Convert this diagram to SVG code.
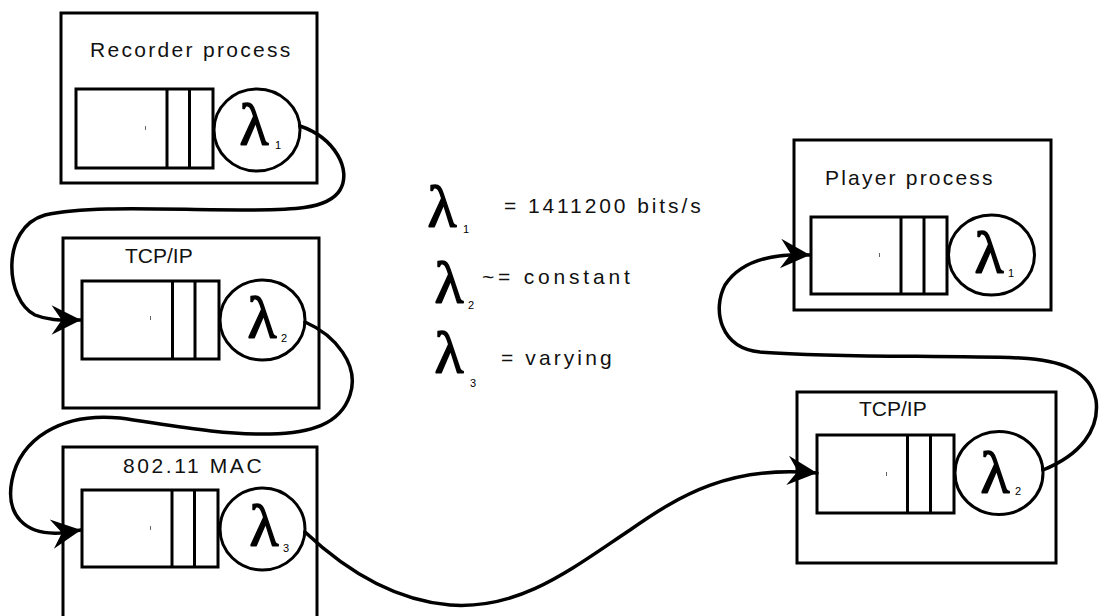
<svg xmlns="http://www.w3.org/2000/svg" width="1103" height="616" viewBox="0 0 1103 616">
<defs>
<style>
.box{fill:none;stroke:#000;stroke-width:3}
.q{fill:#fff;stroke:#000;stroke-width:3}
.srv{fill:#fff;stroke:#000;stroke-width:3}
.lbl{font-family:"Liberation Sans",Arial,sans-serif;font-size:21px;fill:#111}
.lam{font-family:"Liberation Serif","DejaVu Serif",serif;font-size:60px;fill:#000;stroke:#000;stroke-width:1.4;stroke-linejoin:round;text-anchor:middle}
.sub{font-family:"Liberation Sans",Arial,sans-serif;font-size:11px;fill:#000}
.tick{fill:#666}
.con{fill:none;stroke:#000;stroke-width:3.5;stroke-linecap:round}
</style>
<marker id="arr" markerUnits="userSpaceOnUse" markerWidth="34" markerHeight="34" viewBox="-28 -15 30 30" refX="0" refY="0" orient="auto">
<path d="M0,0 L-26,-13 L-17,0 L-26,13 Z" fill="#000"/>
</marker>
</defs>
<rect width="1103" height="616" fill="#fff"/>

<g id="recorder">
<rect class="box" x="61" y="13" width="256" height="170"/>
<text class="lbl" x="90" y="57" letter-spacing="2.3">Recorder process</text>
<rect class="q" x="76" y="89" width="137" height="79"/>
<line x1="167" y1="89" x2="167" y2="168" stroke="#000" stroke-width="3"/>
<line x1="189.5" y1="89" x2="189.5" y2="168" stroke="#000" stroke-width="3"/>
<rect class="tick" x="145" y="126" width="1" height="4"/>
<ellipse class="srv" cx="257" cy="130" rx="43" ry="41"/>
<text class="lam" x="254" y="145">λ</text>
<text class="sub" x="275" y="149">1</text>
</g>

<g id="tcp-left">
<rect class="box" x="63" y="238" width="256" height="170"/>
<text class="lbl" x="125" y="263">TCP/IP</text>
<rect class="q" x="82" y="281" width="137" height="78"/>
<line x1="172.5" y1="281" x2="172.5" y2="359" stroke="#000" stroke-width="3"/>
<line x1="195" y1="281" x2="195" y2="359" stroke="#000" stroke-width="3"/>
<rect class="tick" x="150" y="316" width="1" height="4"/>
<ellipse class="srv" cx="262.5" cy="320" rx="42.5" ry="40"/>
<text class="lam" x="262" y="338">λ</text>
<text class="sub" x="281" y="342">2</text>
</g>

<g id="mac">
<rect class="box" x="63" y="447" width="254" height="180"/>
<text class="lbl" x="123" y="473" letter-spacing="2.6">802.11 MAC</text>
<rect class="q" x="82" y="490" width="136" height="77"/>
<line x1="172" y1="490" x2="172" y2="567" stroke="#000" stroke-width="3"/>
<line x1="194.5" y1="490" x2="194.5" y2="567" stroke="#000" stroke-width="3"/>
<rect class="tick" x="150" y="526" width="1" height="4"/>
<ellipse class="srv" cx="262.5" cy="529" rx="42.5" ry="41"/>
<text class="lam" x="264" y="546">λ</text>
<text class="sub" x="283" y="552">3</text>
</g>

<g id="player">
<rect class="box" x="794" y="140" width="257" height="170"/>
<text class="lbl" x="825" y="185" letter-spacing="2.2">Player process</text>
<rect class="q" x="811" y="217" width="136" height="77"/>
<line x1="901" y1="217" x2="901" y2="294" stroke="#000" stroke-width="3"/>
<line x1="924" y1="217" x2="924" y2="294" stroke="#000" stroke-width="3"/>
<rect class="tick" x="879" y="253" width="1" height="4"/>
<ellipse class="srv" cx="991.5" cy="255" rx="43" ry="40"/>
<text class="lam" x="989" y="273">λ</text>
<text class="sub" x="1008" y="277">1</text>
</g>

<g id="tcp-right">
<rect class="box" x="797" y="392" width="259" height="171"/>
<text class="lbl" x="859" y="416">TCP/IP</text>
<rect class="q" x="817" y="435" width="137" height="78"/>
<line x1="907.5" y1="435" x2="907.5" y2="513" stroke="#000" stroke-width="3"/>
<line x1="930.5" y1="435" x2="930.5" y2="513" stroke="#000" stroke-width="3"/>
<rect class="tick" x="886" y="472" width="1" height="4"/>
<ellipse class="srv" cx="999" cy="473" rx="44" ry="41.5"/>
<text class="lam" x="995" y="493">λ</text>
<text class="sub" x="1015" y="495">2</text>
</g>

<g id="legend">
<text class="lam" x="442" y="227">λ</text>
<text class="sub" x="463" y="233">1</text>
<text class="lbl" x="504" y="213" letter-spacing="2.9">= 1411200 bits/s</text>
<text class="lam" x="449" y="303">λ</text>
<text class="sub" x="468" y="309">2</text>
<text class="lbl" x="482" y="284" letter-spacing="3.8">~= constant</text>
<text class="lam" x="449" y="373">λ</text>
<text class="sub" x="470" y="387">3</text>
<text class="lbl" x="501" y="365" letter-spacing="3.1">= varying</text>
</g>

<g id="connectors">
<path class="con" marker-end="url(#arr)" d="M300,126 C335,138 352,170 340,190 C328,210 290,210 240,210 C170,210 90,205 45,215 C0,228 5,300 35,315 C50,321 62,320 81,320"/>
<path class="con" marker-end="url(#arr)" d="M305,322 C335,335 360,365 350,395 C340,425 310,433 270,434 C220,435 170,425 120,418 C60,412 20,440 12,480 C5,515 25,535 60,533 L81,530"/>
<path class="con" marker-end="url(#arr)" d="M305,532 C340,565 390,600 450,605 C520,610 570,570 630,530 C680,495 730,465 817,473"/>
<path class="con" marker-end="url(#arr)" d="M1043,470 C1080,455 1100,430 1096,400 C1090,370 1060,360 1020,358 C940,355 840,358 760,352 C720,348 712,310 725,285 C740,262 770,253 810,255"/>
</g>
</svg>
